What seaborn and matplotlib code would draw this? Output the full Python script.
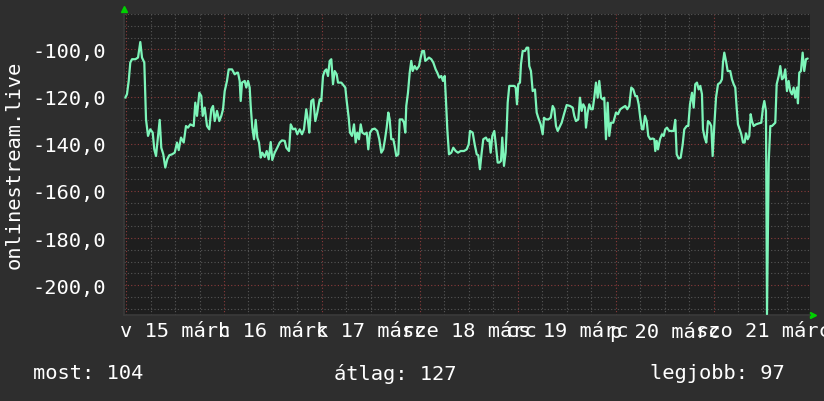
import matplotlib
matplotlib.use("Agg")
import matplotlib.pyplot as plt
import matplotlib.transforms as mtransforms
from matplotlib.ticker import MultipleLocator, FuncFormatter
import numpy as np
import pandas as pd
import seaborn as sns

# ---- data (hours since 15 March 00:00, negated rank) ----
hours = [
    -0.17, 0.24, 0.66, 1.05, 1.47, 2.28, 2.94, 3.50, 3.92, 4.48, 4.90, 5.39, 5.95, 6.54, 6.93,
    7.35, 7.76, 8.25, 8.64, 9.13, 9.62, 10.11, 10.60, 11.27, 11.93, 12.49, 12.91, 13.47, 14.13,
    14.69, 15.18, 15.75, 16.58, 16.97, 17.39, 17.95, 18.44, 18.78, 19.27, 19.84, 20.40, 20.89,
    21.31, 21.72, 22.29, 22.85, 23.34, 23.76, 24.17, 24.73, 25.15, 25.96, 26.62, 27.18,
    27.43, 27.84, 28.09, 28.41, 29.07, 29.46, 29.88, 30.29, 30.54, 30.93, 31.35, 31.76, 32.16,
    32.57, 32.99, 33.38, 33.97, 34.46, 34.95, 35.44, 35.83, 36.42, 37.05, 37.64, 38.20, 38.87,
    39.26, 39.92, 40.34, 40.90, 41.46, 41.95, 42.54, 43.10, 43.59, 44.15, 44.57, 44.89, 45.38,
    45.87, 46.36, 46.85, 47.44, 47.83, 48.25, 48.66, 49.05, 49.47, 49.89, 50.28, 50.69, 51.11,
    51.60, 51.92, 52.73, 53.39, 53.71, 54.05, 54.54, 54.86, 55.35, 55.84,
    56.25, 56.64, 57.06, 57.48, 57.87, 58.46, 58.95, 59.34, 59.76, 60.32, 60.91, 61.54, 62.03,
    62.52, 63.01, 63.43, 63.84, 64.24, 64.58, 64.97, 65.46, 65.80, 66.20, 66.69, 67.03, 67.67,
    68.08, 68.40, 68.64, 69.06, 69.48, 69.87, 70.21, 70.70, 71.19, 71.76, 72.17, 72.56, 72.98,
    73.30, 73.79, 74.20, 74.77, 75.26, 75.84, 76.24, 76.73, 77.22, 77.63, 78.05, 78.37, 78.69,
    79.10, 79.67, 80.16, 80.74, 81.31, 81.97, 82.78, 83.44, 83.93,
    84.25, 84.91, 85.40, 85.89, 86.28, 86.69, 87.11, 87.50, 88.16, 88.58, 88.97, 89.31, 89.71,
    90.20, 90.61, 91.03, 91.42, 91.84, 92.15, 92.57, 92.98, 93.23, 93.48, 93.87, 94.46, 95.09,
    95.44, 95.76, 96.07, 96.49, 96.73, 97.15, 97.71, 98.13, 98.52, 98.77, 99.18, 99.60, 100.16,
    100.58, 100.97, 101.56, 102.05, 102.38, 102.87, 103.42, 104.01, 104.50, 104.90, 105.31,
    105.73, 106.12, 106.70, 107.27, 107.93, 108.73, 109.40, 109.79, 110.20, 110.77, 111.18,
    111.60, 111.99, 112.41,
    112.65, 113.07, 113.46, 113.88, 114.30, 114.69, 115.10, 115.52, 115.91, 116.33, 116.75,
    117.14, 117.55, 117.97, 118.36, 118.78, 119.34, 120.00, 120.49, 121.05, 121.64, 122.28,
    122.77, 123.26, 123.75, 124.24, 124.73, 125.14, 125.56, 125.95, 126.37, 126.69, 127.10,
    127.52, 127.91, 128.40, 128.99, 129.38, 129.63, 129.97, 130.29, 130.78, 131.27, 131.68,
    132.07, 132.49, 133.05, 133.72, 134.13, 134.52, 134.87, 135.36, 135.85, 136.34, 136.73,
    137.32, 137.71, 138.13, 138.62, 139.03, 139.42, 139.84, 140.26, 140.65, 141.06,
    141.31, 141.72, 142.12, 142.53, 142.95, 143.34, 143.68, 144.08, 144.50, 144.99, 145.55,
    145.96, 146.21, 146.53, 146.94, 147.36, 147.99, 148.41, 148.83, 149.22, 149.56, 149.88,
    150.30, 150.69, 151.11, 151.52, 151.84, 152.26, 152.65, 152.99, 153.31, 153.73, 154.29,
    154.95, 155.59, 156.01, 156.33, 156.74, 156.99, 157.40, 157.80, 158.21, 158.63, 159.02,
    159.36, 159.85, 160.24, 160.66, 161.07, 161.46, 161.88, 162.29, 162.69, 163.10, 163.52,
    163.91, 164.33, 164.57, 164.89, 165.31, 165.72, 166.11, 166.53, 166.95,
]
rank = [
    -120.5, -119, -113.4, -105.6, -104.2, -104.2, -103.5, -96.9, -103.5, -105.6, -129.7, -136.7,
    -133.9, -135.3, -142.4, -145.2, -138.1, -129.9, -141.7, -144.5, -150.1, -146.6, -144.9,
    -144.5, -143.8, -139.5, -142.7, -137.4, -139.5, -132.5, -133.2, -131.8, -132.5, -122.6,
    -128.2, -118.4, -119.8, -128.2, -124.7, -132.5, -133.9, -125.4, -124, -130.4, -126.1,
    -130.4, -128.2, -125.4, -117.7, -113.4, -108.5, -108.5, -110.6, -109.9,
    -109.9, -113.4, -121.9, -114.1, -113.4, -116.2, -113.4, -116.2, -124, -133.2, -138.1,
    -129.9, -137.4, -139.5, -145.9, -143.8, -145.6, -143.1, -146.6, -139.3, -146.9, -143.8,
    -141.7, -139.5, -138.6, -138.8, -141.7, -143.1, -131.8, -133.9, -133.6, -136, -133.9, -136,
    -133.9, -125.4, -130.4, -135.3, -121.9, -121.2, -130.4, -126.8, -121.2, -121.9, -111.3,
    -109.2, -108.5, -111.3, -104.9, -104.2, -114.8, -109.2, -110.6, -114.1, -114.1, -115.5,
    -116.2, -121.9, -129, -135.3, -136.7, -131.8,
    -139.5, -135.3, -138.1, -131.8, -135.3, -136, -135.3, -142.4, -135.3, -133.9, -133.6,
    -134.6, -138.1, -143.8, -142.4, -138.1, -133.2, -126.8, -129.7, -138.1, -138.1, -141,
    -145.2, -144.5, -129.7, -129.7, -131.1, -135.3, -124, -118.4, -109.9, -104.9, -109.2,
    -107.1, -108.5, -107.1, -103.5, -100.7, -100.7, -104.9, -104.2, -103.5, -104.2, -105.6,
    -108.5, -109.9, -112, -111.3, -113.4, -111.3, -121.9, -133.9, -144.5, -143.8, -141.7,
    -143.1, -143.8, -143.1, -143.1, -142.4, -140.3,
    -134.6, -135.3, -140.3, -144.5, -144.9, -150.8, -143.8, -138.1, -137.4, -138.8, -138.1,
    -143.8, -136.7, -134.6, -141, -148, -148, -147.3, -137.4, -149.4, -143.8, -133.9, -122.6,
    -115.5, -115.5, -115.5, -116.2, -123.3, -114.8, -114.1, -106.4, -100.7, -100.7, -99.3,
    -99.3, -107.1, -109.2, -117.7, -117, -126.8, -129, -131.8, -136, -129, -129.7, -129.7,
    -129, -124, -125.4, -132.5, -134.6, -133.2, -131.1, -127.5, -123.6, -124, -124.7, -128.2,
    -130.4, -129.7, -120.5, -126.1, -123.3, -124.7,
    -133.2, -126.8, -123.3, -125.4, -125.4, -120.5, -114.1, -120.5, -113.4, -120.5, -121.2,
    -120.5, -138.1, -122.6, -136.7, -131.1, -131.1, -126.8, -127.5, -125.4, -124.7, -124,
    -125.4, -124, -116.2, -117, -119.8, -119.8, -123.3, -129, -133.9, -133.9, -128.2, -130.4,
    -136.7, -138.1, -137.8, -138.1, -143.1, -138.8, -142.4, -138.1, -136, -136.7, -133.9,
    -133.2, -134.6, -134.6, -134.6, -129.9, -144.5, -146.3, -145.9, -140.3, -133.9, -132.5,
    -132.5, -123.3, -118.4, -124.7, -114.8, -114.1, -117, -115.5, -119,
    -133.9, -137.4, -139.5, -130.4, -131.1, -132.5, -145.2, -132.5, -120.5, -114.8, -114.1,
    -112.7, -105.6, -101.4, -104.9, -109.2, -109.2, -112.7, -114.8, -116.2, -124.7, -131.8,
    -133.9, -136, -139.5, -139.5, -135.6, -138.1, -136.7, -127.5, -130.4, -132.5, -131.8,
    -131.4, -131.1, -124.7, -121.9, -126.1, -212.2, -148, -132.5, -132.5, -131.8, -131.1,
    -114.8, -111.3, -107.1, -112.7, -112, -108.5, -117.7, -113.4, -117.7, -119.1, -116.2,
    -120.5, -116.2, -122.9, -109.9, -109.2, -101.4, -109.2, -104.2, -103.9,
]
day_labels = ["v 15 márc", "h 16 márc", "k 17 márc", "sze 18 márc",
              "cs 19 márc", "p 20 márc", "szo 21 márc"]
y_label = "onlinestream.live"
stats = [("most:", 104), ("átlag:", 127), ("legjobb:", 97)]

# ---- style ----
FIG_BG = "#2e2e2e"
AX_BG = "#1e1e1e"
LINE = "#7df5b9"
TXT = "#ffffff"
MINOR = "#575757"
MAJOR = "#8a3b3b"
FONT = "DejaVu Sans Mono"
FS = 14.7

sns.set_style("dark")
plt.rcParams["font.family"] = [FONT, "DejaVu Sans"]

fig = plt.figure(figsize=(8.24, 4.02), dpi=100, facecolor=FIG_BG)
ax = fig.add_axes([124.5 / 824, 86 / 402, 685 / 824, 301.3 / 402])
ax.set_facecolor(AX_BG)

df = pd.DataFrame({"hour": hours, "rank": rank})
sns.lineplot(data=df, x="hour", y="rank", ax=ax, color=LINE, linewidth=1.6,
             estimator=None, sort=False, zorder=5)

ax.set_xlim(-0.37, 167.4)
ax.set_ylim(-212.6, -84.9)

# grids
ax.xaxis.set_major_locator(MultipleLocator(24))
ax.xaxis.set_minor_locator(MultipleLocator(6))
ax.yaxis.set_major_locator(MultipleLocator(20))
ax.yaxis.set_minor_locator(MultipleLocator(5))
ax.grid(which="minor", color=MINOR, linestyle=(0, (1, 2)), linewidth=0.8, zorder=1)
ax.grid(which="major", color=MAJOR, linestyle=(0, (1, 2)), linewidth=0.8, zorder=2)
ax.set_axisbelow(True)

ax.yaxis.set_major_formatter(FuncFormatter(lambda v, p: f"{v:.1f}".replace(".", ",")))
ax.tick_params(axis="y", which="major", colors=TXT, labelsize=FS, length=2.5,
               pad=10.5, color="#666666")
ax.tick_params(axis="y", which="minor", length=2, color="#555555")
ax.tick_params(axis="x", which="both", labelbottom=False, length=2, color="#555555")
for lab in ax.get_yticklabels():
    lab.set_fontfamily(FONT)
ax.set_xlabel("")
ax.set_ylabel("")

for s in ["top", "right"]:
    ax.spines[s].set_visible(False)
for s in ["left", "bottom"]:
    ax.spines[s].set_visible(True)
    ax.spines[s].set_color("#3a3a3a")
    ax.spines[s].set_linewidth(1.2)

# day labels centered at noon of each day
trans = mtransforms.blended_transform_factory(ax.transData, ax.transAxes)
for i, lab in enumerate(day_labels):
    ax.text(12 + 24 * i, -0.052, lab, transform=trans, ha="center", va="center",
            color=TXT, fontsize=FS, fontfamily=FONT, clip_on=False)

# axis arrows
ax.plot([0], [1.015], marker="^", color="#00d000", markersize=5,
        transform=ax.transAxes, clip_on=False)
ax.plot([1.005], [0.0], marker=">", color="#00d000", markersize=5,
        transform=ax.transAxes, clip_on=False)

# y label
fig.text(14 / 824, 1 - 165 / 402, y_label, rotation=90, ha="center", va="center",
         color=TXT, fontsize=FS, fontfamily=FONT)

# stats line
xs = [33, 334, 650]
for (name, val), x0 in zip(stats, xs):
    fig.text(x0 / 824, 1 - 374 / 402, f"{name} {val}", ha="left", va="center",
             color=TXT, fontsize=FS, fontfamily=FONT)

fig.savefig("out.png", dpi=100, facecolor=FIG_BG)
